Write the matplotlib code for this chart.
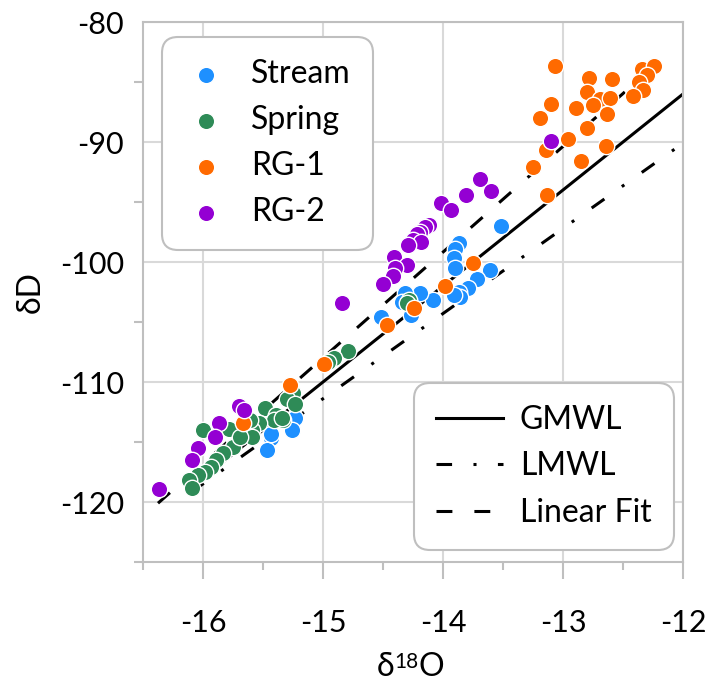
import matplotlib
matplotlib.use('Agg')
import matplotlib.pyplot as plt
from matplotlib.ticker import MultipleLocator, FixedLocator
from matplotlib.lines import Line2D

plt.rcParams['font.family'] = ['Lato', 'DejaVu Sans']
plt.rcParams['axes.unicode_minus'] = False

# values
stream_x = [-13.52, -13.87, -13.90, -13.91, -13.90, -13.61, -13.72, -13.79, -13.87, -13.86, -13.91,
            -14.08, -14.19, -14.32, -14.34, -14.27, -14.52, -15.23, -15.26, -15.43, -15.47, -15.43]
stream_y = [-96.97, -98.4, -98.9, -99.7, -100.5, -100.7, -101.4, -102.2, -102.5, -102.9, -102.75,
            -103.2, -102.6, -102.6, -103.3, -104.4, -104.6, -113.0, -114.0, -114.7, -115.7, -114.3]

spring_x = [-15.25, -15.30, -15.23, -15.48, -15.39, -15.33, -15.41, -15.53, -15.59, -15.61, -15.78,
            -16.00, -15.75, -15.83, -15.89, -15.93, -15.98, -16.04, -16.12, -16.09, -15.59, -15.69,
            -14.79, -14.91, -14.96, -15.34, -14.28, -14.30]
spring_y = [-110.9, -111.4, -111.8, -112.2, -112.75, -113.2, -113.2, -113.4, -114.0, -113.2, -113.9,
            -114.0, -115.4, -115.9, -116.5, -117.1, -117.5, -117.75, -118.2, -118.8, -114.6, -114.6,
            -107.4, -108.0, -108.3, -113.0, -103.2, -103.4]

rg1_x = [-13.07, -12.78, -12.59, -12.34, -12.24, -12.30, -12.37, -12.33, -12.42, -12.80, -12.69,
         -12.61, -12.75, -12.89, -13.10, -13.19, -12.63, -12.80, -12.96, -12.64, -13.14, -12.85,
         -13.25, -13.13, -13.75, -13.98, -14.24, -14.47, -14.99, -15.275, -15.67]
rg1_y = [-83.67, -84.7, -84.75, -83.9, -83.7, -84.4, -84.97, -85.7, -86.2, -85.8, -86.4,
         -86.3, -86.9, -87.2, -86.8, -88.0, -87.7, -88.8, -89.75, -90.3, -90.7, -91.6,
         -92.1, -94.4, -100.1, -102.0, -103.85, -105.25, -108.5, -110.25, -113.4]

rg2_x = [-13.69, -13.60, -13.81, -14.02, -13.93, -14.12, -14.15, -14.19, -14.22, -14.25, -14.18,
         -14.29, -14.41, -14.30, -14.40, -14.42, -14.50, -14.84, -15.70, -15.66, -15.87, -15.90,
         -16.04, -16.09, -16.37, -13.10]
rg2_y = [-93.1, -94.1, -94.4, -95.1, -95.7, -96.9, -97.06, -97.5, -97.7, -98.2, -98.3,
         -98.6, -99.55, -100.25, -100.5, -101.2, -101.8, -103.4, -112.0, -112.3, -113.4, -114.6,
         -115.5, -116.5, -118.9, -89.9]

# line end points
gmwl_x = [-16.1, -12.0]
gmwl_y = [-118.8, -86.0]
lmwl_x = [-16.1, -12.0]
lmwl_y = [-119.2, -90.1]
fit_x = [-16.375, -12.3]
fit_y = [-120.1, -84.2]

groups = ['Stream', 'Spring', 'RG-1', 'RG-2']
colors = ['#1e90ff', '#2e8b57', '#ff6a00', '#9400d3']

fig = plt.figure(figsize=(7.08, 6.83), dpi=100)
ax = fig.add_axes([143 / 708, 121 / 683, 540 / 708, 540 / 683])

lw = 2.2
dashdot = (0, (5.1, 7.0, 1.0, 7.0))
dashed = (0, (5.2, 7.2))
ax.plot(gmwl_x, gmwl_y, color='black', lw=lw, zorder=2)
ax.plot(lmwl_x, lmwl_y, color='black', lw=lw, linestyle=dashdot, zorder=2)
ax.plot(fit_x, fit_y, color='black', lw=lw, linestyle=dashed, zorder=2)

pts = []
for gx, gy, name, col in zip([stream_x, spring_x, rg1_x, rg2_x],
                             [stream_y, spring_y, rg1_y, rg2_y], groups, colors):
    sc = ax.scatter(gx, gy, s=140, color=col, edgecolors='white', linewidths=1,
                    zorder=3, label=name)
    pts.append(sc)

ax.set_xlim(-16.5, -12)
ax.set_ylim(-125, -80)
ax.xaxis.set_major_locator(MultipleLocator(1))
ax.xaxis.set_minor_locator(MultipleLocator(0.5))
ax.yaxis.set_major_locator(MultipleLocator(10))
ax.yaxis.set_minor_locator(FixedLocator([-125, -115, -105, -95, -85]))

ax.grid(True, which='major', color='#d9d9d9', lw=1.5)
ax.set_axisbelow(True)
for s in ax.spines.values():
    s.set_color('#bfbfbf')
    s.set_linewidth(1.5)

ax.tick_params(axis='x', which='major', length=12, width=1.5, color='#bfbfbf', pad=22, labelsize=22)
ax.tick_params(axis='x', which='minor', length=6, width=1.5, color='#bfbfbf')
ax.tick_params(axis='y', which='major', length=0, pad=13.7, labelsize=22)
ax.tick_params(axis='y', which='minor', length=6.5, width=1.5, color='#bfbfbf')

ax.set_ylabel('δD', fontsize=23)
ax.yaxis.set_label_coords(-0.18, 0.5)

# x label built in pieces so the superscript reads clearly
t_delta = fig.text(377 / 708, 7 / 683, 'δ', fontsize=23, ha='left', va='baseline')
t_sup = ax.annotate('18', xy=(1, 1), xycoords=t_delta, fontsize=15, ha='left', va='top')
ax.annotate('O', xy=(1, 0), xycoords=(t_sup, t_delta), fontsize=23, ha='left', va='bottom')

leg1 = ax.legend(handles=pts, loc='upper left', bbox_to_anchor=(0.035, 0.972), borderaxespad=0,
                 fontsize=23, fancybox=True, edgecolor='#bfbfbf', framealpha=1,
                 handlelength=1.35, handletextpad=0.74, borderpad=0.7, labelspacing=0.5,
                 scatterpoints=1)
leg1.get_frame().set_boxstyle('round,pad=0,rounding_size=0.5')
leg1.get_frame().set_linewidth(1.5)
ax.add_artist(leg1)

line_handles = [Line2D([], [], color='black', lw=lw, label='GMWL'),
                Line2D([], [], color='black', lw=lw, linestyle=dashdot, label='LMWL'),
                Line2D([], [], color='black', lw=lw, linestyle=dashed, label='Linear Fit')]
leg2 = ax.legend(handles=line_handles, loc='lower right', bbox_to_anchor=(0.983, 0.022),
                 borderaxespad=0, fontsize=23, fancybox=True, edgecolor='#bfbfbf', framealpha=1,
                 handlelength=2.1, handletextpad=0.52, borderpad=0.7, labelspacing=0.51)
leg2.get_frame().set_boxstyle('round,pad=0,rounding_size=0.5')
leg2.get_frame().set_linewidth(1.5)

fig.savefig('out.png', dpi=100)
